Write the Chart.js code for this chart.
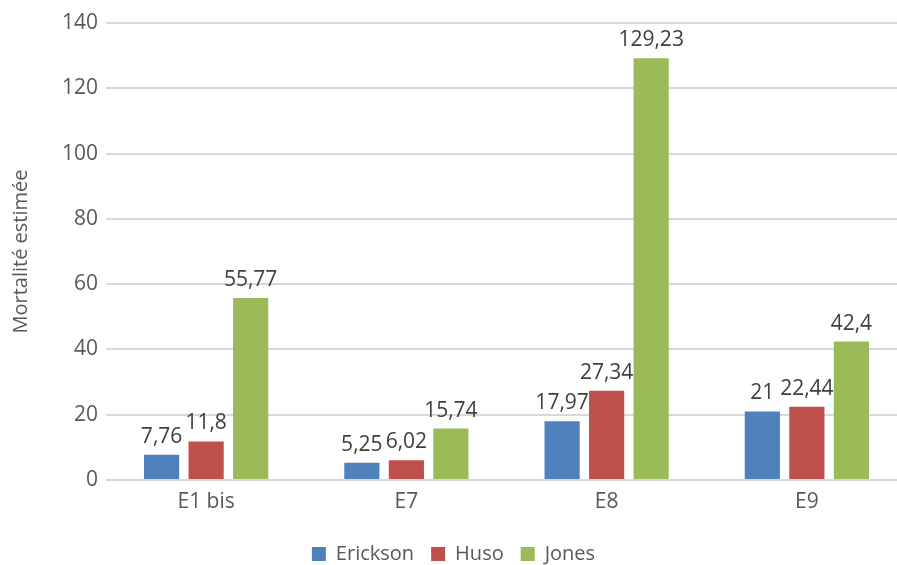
<!DOCTYPE html>
<html lang="fr">
<head>
    <meta charset="UTF-8">
    <title>Mortalité estimée</title>
    <style>
        html, body { margin: 0; padding: 0; background: #fff; overflow: hidden; }
        #wrap { width: 910px; height: 565px; }
    </style>
</head>
<body>
<div id="wrap">
    <canvas id="chart" width="910" height="565"></canvas>
</div>

<script src="https://cdn.jsdelivr.net/npm/chart.js@4/dist/chart.umd.min.js"></script>
<script>
    // Data
    const categories = ['E1 bis', 'E7', 'E8', 'E9'];
    const erickson = [7.76, 5.25, 17.97, 21];
    const huso = [11.8, 6.02, 27.34, 22.44];
    const jones = [55.77, 15.74, 129.23, 42.4];
    const yTicks = [0, 20, 40, 60, 80, 100, 120, 140];

    const font = "'Open Sans', 'DejaVu Sans', sans-serif";
    const grey = '#595959';

    // French decimal comma
    const fmt = v => String(v).replace('.', ',');

    // Draws the value above each bar
    const valueLabels = {
        id: 'valueLabels',
        afterDatasetsDraw(chart) {
            const ctx = chart.ctx;
            ctx.save();
            ctx.font = '21px ' + font;
            ctx.fillStyle = '#404040';
            ctx.textAlign = 'center';
            ctx.textBaseline = 'alphabetic';
            chart.data.datasets.forEach((ds, i) => {
                chart.getDatasetMeta(i).data.forEach((bar, j) => {
                    ctx.fillText(fmt(ds.data[j]), bar.x, bar.y - 12);
                });
            });
            ctx.restore();
        }
    };

    new Chart(document.getElementById('chart'), {
        type: 'bar',
        data: {
            labels: categories,
            datasets: [
                { label: 'Erickson', data: erickson, backgroundColor: '#4f81bd' },
                { label: 'Huso', data: huso, backgroundColor: '#c0504d' },
                { label: 'Jones', data: jones, backgroundColor: '#9bbb59' }
            ]
        },
        options: {
            responsive: false,
            animation: false,
            layout: { padding: { top: 23, left: 0, right: 3, bottom: -9 } },
            datasets: {
                bar: { categoryPercentage: 0.667, barPercentage: 0.79 }
            },
            scales: {
                x: {
                    grid: { display: false },
                    border: { display: false },
                    ticks: { color: grey, font: { family: font, size: 21 }, padding: 1 },
                    afterFit(scale) { scale.height = 47; }
                },
                y: {
                    min: 0,
                    max: 140,
                    afterBuildTicks(scale) { scale.ticks = yTicks.map(v => ({ value: v })); },
                    grid: { color: '#d9d9d9', lineWidth: 2, drawTicks: false },
                    border: { display: false },
                    ticks: { color: grey, font: { family: font, size: 21 }, padding: 8 },
                    title: {
                        display: true,
                        text: 'Mortalité estimée',
                        color: grey,
                        font: { family: font, size: 20 },
                        padding: { top: 9, bottom: 0 }
                    },
                    afterFit(scale) { scale.width = 106; }
                }
            },
            plugins: {
                legend: {
                    position: 'bottom',
                    labels: {
                        color: grey,
                        font: { family: font, size: 20 },
                        boxWidth: 14,
                        boxHeight: 14,
                        padding: 17
                    }
                },
                tooltip: { enabled: false }
            }
        },
        plugins: [valueLabels]
    });
</script>
</body>
</html>
